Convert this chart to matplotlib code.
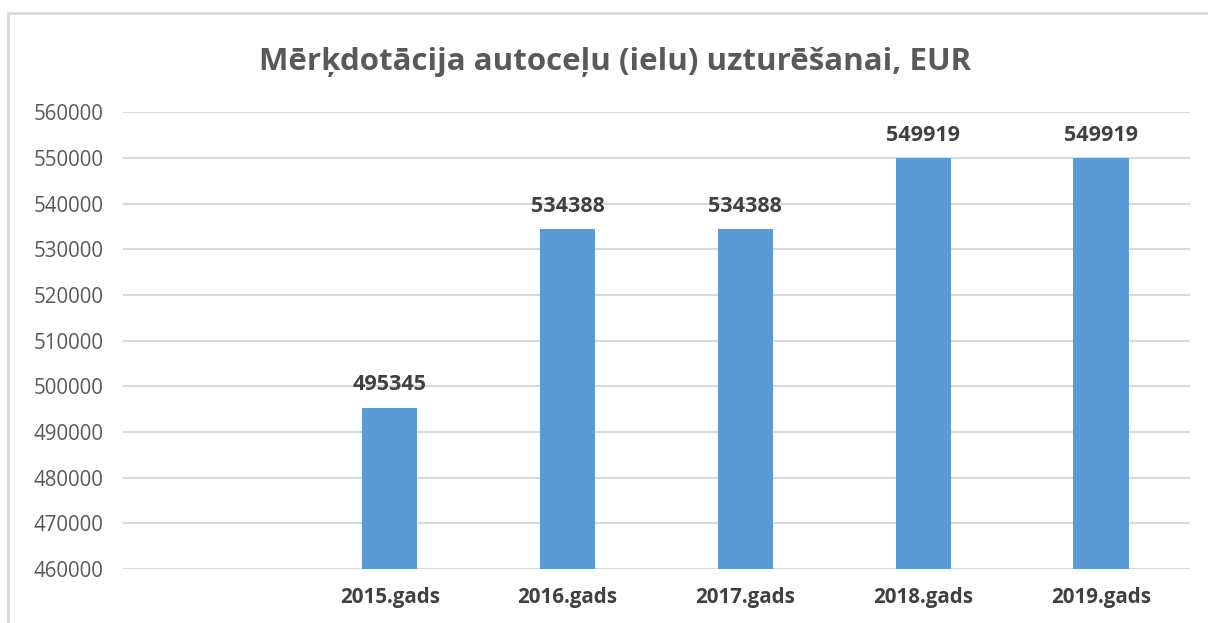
import matplotlib.pyplot as plt
from matplotlib.patches import Rectangle

# Dati no attēla
kategorijas = ['', '2015.gads', '2016.gads', '2017.gads', '2018.gads', '2019.gads']
vertibas = [0, 495345, 534388, 534388, 549919, 549919]
y_ticks = list(range(460000, 560001, 10000))

plt.rcParams['font.family'] = ['Open Sans', 'DejaVu Sans']

fig = plt.figure(figsize=(12.08, 6.23), dpi=100)
ax = fig.add_axes([0.1018, 0.0867, 0.8832, 0.7333])

# ramis ap diagrammu
fig.patches.append(Rectangle((8 / 1208, -0.1), 1.2, 1 - 13 / 623 + 0.1,
                             transform=fig.transFigure, fill=False,
                             edgecolor='#D9D9D9', linewidth=2))

x = range(len(kategorijas))
bars = ax.bar(x, vertibas, width=0.31, color='#5B9BD5', zorder=3)

for i, v in enumerate(vertibas):
    if v == 0:
        continue
    ax.annotate(str(v), (i, v), xytext=(0, 9), textcoords='offset points',
                ha='center', va='bottom', fontsize=15.5, fontweight='bold',
                color='#404040')

ax.set_xlim(-0.5, 5.5)
ax.set_ylim(460000, 560000)
ax.set_yticks(y_ticks)
ax.set_yticklabels([str(t) for t in y_ticks])
ax.set_xticks(list(x))
ax.set_xticklabels(kategorijas, fontweight='bold')
ax.tick_params(axis='y', length=0, pad=14, labelsize=14.8, labelcolor='#595959')
ax.tick_params(axis='x', length=0, pad=13, labelsize=14.8, labelcolor='#404040')
ax.grid(axis='y', color='#D9D9D9', linewidth=1.5, zorder=0)
for s in ax.spines.values():
    s.set_visible(False)

fig.text(0.509, 0.9, 'Mērķdotācija autoceļu (ielu) uzturēšanai, EUR',
         ha='center', va='center', fontsize=22.5, fontweight='bold', color='#595959')

fig.savefig('out.png', dpi=100)
